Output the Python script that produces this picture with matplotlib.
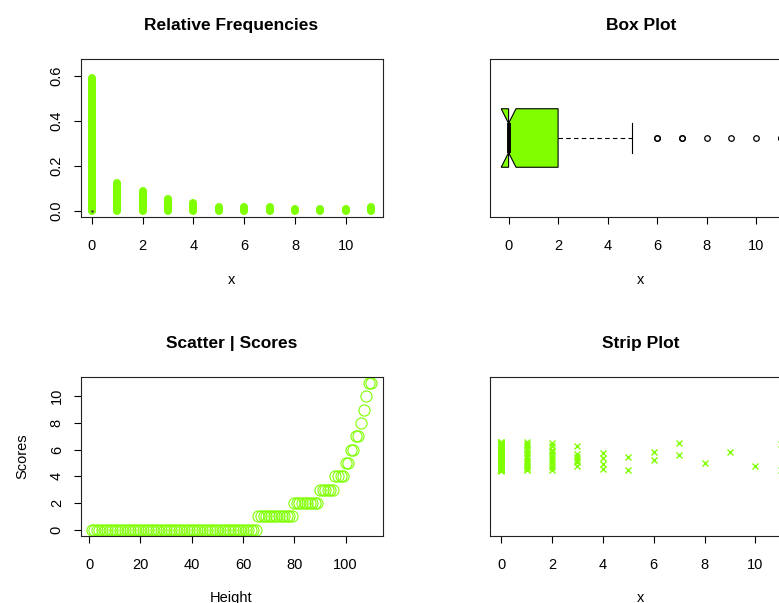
import numpy as np
import matplotlib
matplotlib.use("Agg")
import matplotlib.pyplot as plt

plt.rcParams['font.family'] = ['Liberation Sans', 'DejaVu Sans']
plt.rcParams['font.size'] = 10.5

# counts of each score value (110 observations)
values = np.array([0, 1, 2, 3, 4, 5, 6, 7, 8, 9, 10, 11])
counts = np.array([65, 14, 10, 6, 4, 2, 2, 2, 1, 1, 1, 2])

scores = np.repeat(values, counts)      # sorted scores
height = np.arange(1, len(scores) + 1)  # index used as "Height"
rel_freq = counts / counts.sum()

# vertical jitter of the strip plot, one list per score value
strip_offsets = [
    [0.098, -0.041, 0.012, 0.077, -0.088, 0.035, -0.006, 0.061, -0.072, 0.024,
     -0.053, 0.089, -0.019, 0.046, -0.097, 0.003, 0.068, -0.034, 0.081, -0.064,
     0.017, -0.08, 0.052, -0.011, 0.093, -0.047, 0.029, -0.025, 0.072, -0.058,
     0.008, -0.092, 0.039, -0.003, 0.085, -0.069, 0.021, -0.037, 0.057, -0.015,
     0.096, -0.076, 0.043, -0.029, 0.065, -0.05, 0.001, -0.085, 0.031, 0.074,
     -0.062, 0.014, -0.021, 0.05, -0.095, 0.088, -0.043, 0.027, -0.008, 0.06,
     -0.071, 0.036, -0.055, 0.082, -0.099],
    [0.095, 0.085, 0.07, 0.05, 0.04, 0.02, 0.0, -0.01, -0.03, -0.045, -0.06,
     -0.075, -0.085, -0.095],
    [0.09, 0.07, 0.045, 0.03, 0.01, -0.01, -0.03, -0.05, -0.07, -0.095],
    [0.068, 0.018, -0.005, -0.023, -0.041, -0.068],
    [0.02, -0.01, -0.05, -0.085],
    [-0.005, -0.091],
    [0.032, -0.027],
    [0.087, 0.009],
    [-0.046],
    [0.032],
    [-0.066],
    [0.082, -0.091],
]

green = '#7FFF00'


def r_limits(lo, hi):
    # R style 4% padding of the data range
    pad = 0.04 * (hi - lo)
    return lo - pad, hi + pad


def r_style(ax):
    for s in ax.spines.values():
        s.set_linewidth(0.8)
        s.set_color('#222222')
    ax.tick_params(direction='out', length=5, width=0.8)
    ax.tick_params(axis='x', pad=11)
    ax.tick_params(axis='y', pad=7, labelrotation=90)
    for lab in ax.get_yticklabels():
        lab.set_va('center')


fig = plt.figure(figsize=(7.79, 6.03), dpi=100)
W, H = 779, 603


def add_axes(left, top, width, height):
    return fig.add_axes([left / W, (H - top - height) / H, width / W, height / H])


# Relative frequencies
ax1 = add_axes(80.5, 59, 302, 158)
ax1.vlines(values, 0, rel_freq, color=green, lw=5.8, capstyle='round')
ax1.plot([0], [0], '.', color='#333333', ms=1.5)
ax1.set_xlim(r_limits(0, 11))
ax1.set_ylim(r_limits(0, 0.65))
ax1.set_xticks([0, 2, 4, 6, 8, 10])
ax1.set_yticks([0, 0.2, 0.4, 0.6])
ax1.set_yticklabels(['0.0', '0.2', '0.4', '0.6'])
ax1.set_title('Relative Frequencies', fontweight='bold', fontsize=12.5, pad=21)
ax1.set_xlabel('x', labelpad=14)
r_style(ax1)

# Box plot (notched, horizontal)
ax2 = add_axes(490, 59, 302, 158)
bp = ax2.boxplot(scores, notch=True, orientation='horizontal', widths=0.4,
                 patch_artist=True, whis=1.5,
                 boxprops=dict(facecolor=green, edgecolor='black', lw=0.8),
                 medianprops=dict(color='black', lw=2.8),
                 whiskerprops=dict(color='black', lw=0.8, ls=(0, (4, 3))),
                 capprops=dict(color='black', lw=0.8),
                 flierprops=dict(marker='o', mfc='none', mec='black', ms=4, mew=0.9))
conf = 1.57 * 2 / np.sqrt(len(scores))
ax2.set_xlim(r_limits(-conf, scores.max()))
ax2.set_ylim(r_limits(0.5, 1.5))
ax2.set_xticks([0, 2, 4, 6, 8, 10])
ax2.set_xticklabels(['0', '2', '4', '6', '8', '10'])
ax2.set_yticks([])
ax2.set_title('Box Plot', fontweight='bold', fontsize=12.5, pad=21)
ax2.set_xlabel('x', labelpad=14)
r_style(ax2)

# Scatter of sorted scores
ax3 = add_axes(80.5, 377, 302, 158.5)
ax3.plot(height, scores, 'o', mfc='none', mec=green, ms=8, mew=0.8)
ax3.set_xlim(r_limits(1, 110))
ax3.set_ylim(r_limits(0, 11))
ax3.set_xticks([0, 20, 40, 60, 80, 100])
ax3.set_yticks([0, 2, 4, 6, 8, 10])
ax3.set_title('Scatter | Scores', fontweight='bold', fontsize=12.5, pad=21)
ax3.set_xlabel('Height', labelpad=14)
ax3.set_ylabel('Scores', labelpad=15)
r_style(ax3)

# Strip plot with jitter
ax4 = add_axes(490, 377, 302, 158.5)
for v, offs in zip(values, strip_offsets):
    offs = np.array(offs)
    ax4.plot(np.full(len(offs), v), 1 + offs, 'x', color=green, ms=4.5, mew=1)
ax4.set_xlim(r_limits(0, 11))
ax4.set_ylim(r_limits(0.5, 1.5))
ax4.set_xticks([0, 2, 4, 6, 8, 10])
ax4.set_yticks([])
ax4.set_title('Strip Plot', fontweight='bold', fontsize=12.5, pad=21)
ax4.set_xlabel('x', labelpad=14)
r_style(ax4)

fig.savefig('out.png', dpi=100)
